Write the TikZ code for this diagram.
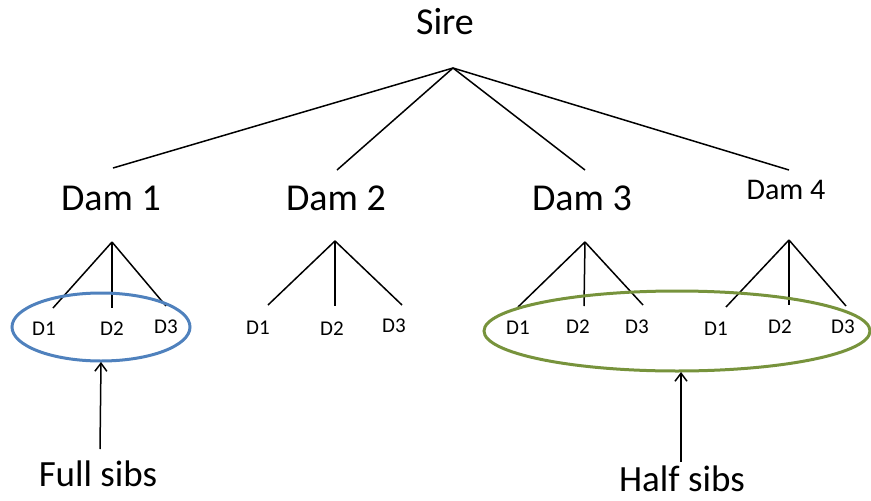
\documentclass[tikz,border=0pt]{standalone}
\usepackage{fontspec}
\setmainfont{Carlito}
\begin{document}
\begin{tikzpicture}[x=1pt,y=-1pt,
  big/.style={font=\fontsize{38}{42}\selectfont, inner sep=0pt, anchor=center},
  mid/.style={font=\fontsize{30}{34}\selectfont, inner sep=0pt, anchor=center},
  kid/.style={font=\fontsize{21}{24}\selectfont, inner sep=0pt, anchor=center},
  link/.style={line width=1.5pt, black},
  ring/.style={line width=3pt},
  pointer/.style={line width=1.5pt, ->, >={Straight Barb[length=8pt,width=12pt]}}]
\usetikzlibrary{arrows.meta}
\definecolor{ringblue}{HTML}{4F81BD}
\definecolor{ringgreen}{HTML}{77933C}
\path[use as bounding box] (0,0) rectangle (871,501);

% sire and dams
\node[big] (sire) at (445,22) {Sire};
\coordinate (sa) at (453,68);
\node[big] (dam1) at (111,198) {Dam 1};
\node[big] (dam2) at (336,198) {Dam 2};
\node[big] (dam3) at (582,198) {Dam 3};
\node[mid] (dam4) at (786,190) {Dam 4};
\coordinate (t1) at (113,168);
\coordinate (t2) at (337,170);
\coordinate (t3) at (585,170);
\coordinate (t4) at (789,170);
\foreach \t in {t1,t2,t3,t4} \draw[link] (sa) -- (\t);

% progeny of each dam
\coordinate (a1) at (112,242);
\coordinate (a2) at (335,241);
\coordinate (a3) at (585,242);
\coordinate (a4) at (789,240);

\coordinate (e11) at (53,308);  \coordinate (e12) at (112,308); \coordinate (e13) at (166,306);
\coordinate (e21) at (268,305); \coordinate (e22) at (335,306); \coordinate (e23) at (402,305);
\coordinate (e31) at (518,307); \coordinate (e32) at (584,306); \coordinate (e33) at (643,305);
\coordinate (e41) at (726,307); \coordinate (e42) at (789,305); \coordinate (e43) at (846,306);
\foreach \d in {1,2,3,4}
  \foreach \k in {1,2,3}
    \draw[link] (a\d) -- (e\d\k);

\node[kid] (k11) at (44,329) {D1};
\node[kid] (k12) at (112,329) {D2};
\node[kid] (k13) at (166,327) {D3};
\node[kid] (k21) at (258,328) {D1};
\node[kid] (k22) at (332,329) {D2};
\node[kid] (k23) at (394,326) {D3};
\node[kid] (k31) at (518,328) {D1};
\node[kid] (k32) at (578,327) {D2};
\node[kid] (k33) at (637,327) {D3};
\node[kid] (k41) at (716,329) {D1};
\node[kid] (k42) at (780,327) {D2};
\node[kid] (k43) at (843,327) {D3};

% sib groups
\draw[ring, ringblue] (101,327) ellipse [x radius=89, y radius=34];
\draw[ring, ringgreen] (677,331) ellipse [x radius=193, y radius=40];
\coordinate (fb) at (101,362);
\coordinate (hb) at (681,372);

\node[big, font=\fontsize{37}{40}\selectfont] (full) at (98,474) {Full sibs};
\node[big, font=\fontsize{37}{40}\selectfont, text depth=0pt] (half) at (682,479) {Half sibs};
\draw[pointer] (100,449) -- (fb);
\draw[pointer] (681,462) -- (hb);
\end{tikzpicture}
\end{document}
